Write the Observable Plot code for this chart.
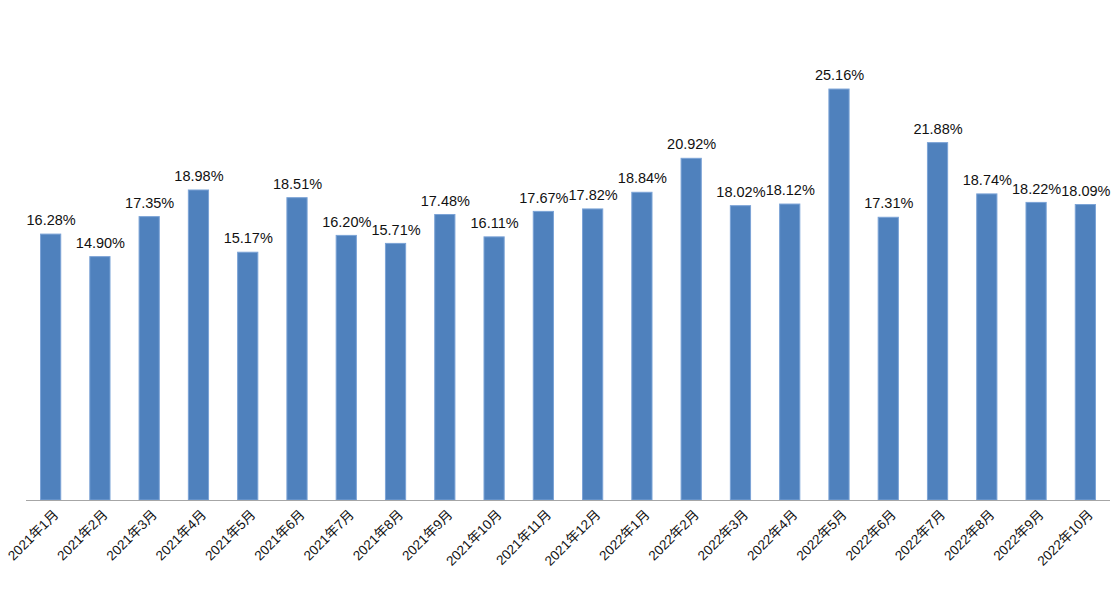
<!DOCTYPE html>
<html><head><meta charset="utf-8">
<script src="https://cdn.jsdelivr.net/npm/d3@7"></script>
<script src="https://cdn.jsdelivr.net/npm/@observablehq/plot@0.6"></script>
<style>body{margin:0;background:#fff;} #chart{width:1112px;height:603px;}</style>
</head><body><div id="chart"></div>
<script>
const months = ["2021年1月","2021年2月","2021年3月","2021年4月","2021年5月","2021年6月","2021年7月","2021年8月","2021年9月","2021年10月","2021年11月","2021年12月","2022年1月","2022年2月","2022年3月","2022年4月","2022年5月","2022年6月","2022年7月","2022年8月","2022年9月","2022年10月"];
const values = [16.28,14.90,17.35,18.98,15.17,18.51,16.20,15.71,17.48,16.11,17.67,17.82,18.84,20.92,18.02,18.12,25.16,17.31,21.88,18.74,18.22,18.09];
const data = months.map((m,i)=>({month:m, value:values[i]}));
const font = "'Liberation Sans','Noto Sans CJK SC',sans-serif";
const chart = Plot.plot({
  width:1112, height:603,
  marginLeft:26, marginRight:2, marginTop:10, marginBottom:103,
  style:{fontFamily:font, background:"#fff"},
  x:{domain:months, paddingInner:0.59, paddingOuter:0.295, round:false, label:null},
  y:{domain:[0,30], axis:null},
  marks:[
    Plot.barY(data,{x:"month", y:"value", fill:"#4f81bd", stroke:"#7ba3d6", strokeWidth:1}),
    Plot.ruleY([0],{stroke:"#a6a6a6", strokeWidth:1.2}),
    Plot.text(data,{x:"month", y:"value", text:d=>d.value.toFixed(2)+"%", dy:-14, lineAnchor:"middle", fontSize:14.5, fill:"#111"}),
    Plot.axisX({tickSize:0, tickRotate:-45, tickPadding:12, dx:5, fontSize:13.5, fill:"#111", label:null})
  ]
});
document.getElementById("chart").appendChild(chart);
</script></body></html>
